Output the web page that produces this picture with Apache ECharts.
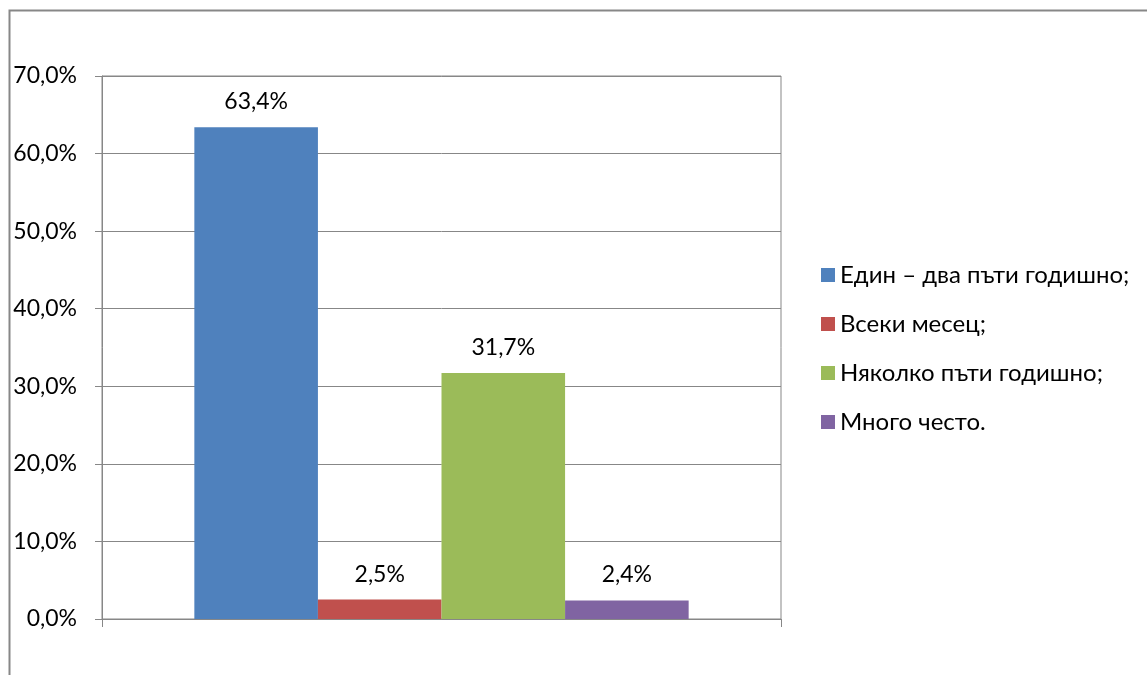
<!DOCTYPE html>
<html><head><meta charset="utf-8">
<script src="https://cdn.jsdelivr.net/npm/echarts@6/dist/echarts.min.js"></script>
<style>html,body{margin:0;padding:0;background:#fff}#c{width:1147px;height:675px}</style>
</head><body><div id="c"></div>
<script>
const categories = [''];
const seriesNames = ['Един – два пъти годишно;', 'Всеки месец;', 'Няколко пъти годишно;', 'Много често.'];
const seriesValues = [63.4, 2.5, 31.7, 2.4];
const seriesColors = ['#4F81BD', '#C0504D', '#9BBB59', '#8064A2'];
const yTicks = [0, 10, 20, 30, 40, 50, 60, 70];

const FONT = 'Lato, "Open Sans", sans-serif';
const fmt = v => v.toFixed(1).replace('.', ',') + '%';

const chart = echarts.init(document.getElementById('c'));
chart.setOption({
  animation: false,
  backgroundColor: '#fff',
  graphic: [{
    type: 'rect', left: 7, top: 8, shape: {width: 1200, height: 700},
    style: {fill: 'none', stroke: '#878787', lineWidth: 2}, silent: true, z: -1
  }],
  grid: {left: 102, right: 366, top: 76, bottom: 56, show: true, borderColor: '#878787', borderWidth: 1},
  legend: {
    orient: 'vertical', left: 816, top: 258, itemGap: 25,
    itemWidth: 14, itemHeight: 14, icon: 'rect',
    textStyle: {fontFamily: FONT, fontSize: 24, color: '#000'},
    data: seriesNames
  },
  xAxis: {
    type: 'category', data: categories,
    axisLine: {lineStyle: {color: '#878787', width: 1}},
    axisTick: {show: true, length: 8, lineStyle: {color: '#878787'}},
    axisLabel: {show: false}
  },
  yAxis: {
    type: 'value', min: yTicks[0], max: yTicks[yTicks.length - 1], interval: 10,
    axisLine: {show: true, lineStyle: {color: '#878787'}},
    axisTick: {show: true, length: 7, lineStyle: {color: '#878787'}},
    splitLine: {lineStyle: {color: '#878787', width: 1}},
    axisLabel: {formatter: v => fmt(v), fontFamily: FONT, fontSize: 23, color: '#000', margin: 25}
  },
  series: seriesNames.map((n, i) => ({
    name: n, type: 'bar',
    data: [seriesValues[i]],
    itemStyle: {color: seriesColors[i]},
    barGap: '0%', barCategoryGap: '27.2%',
    label: {show: true, position: 'top', distance: 14, formatter: p => fmt(p.value),
      fontFamily: FONT, fontSize: 23, color: '#000'}
  }))
});
</script></body></html>
